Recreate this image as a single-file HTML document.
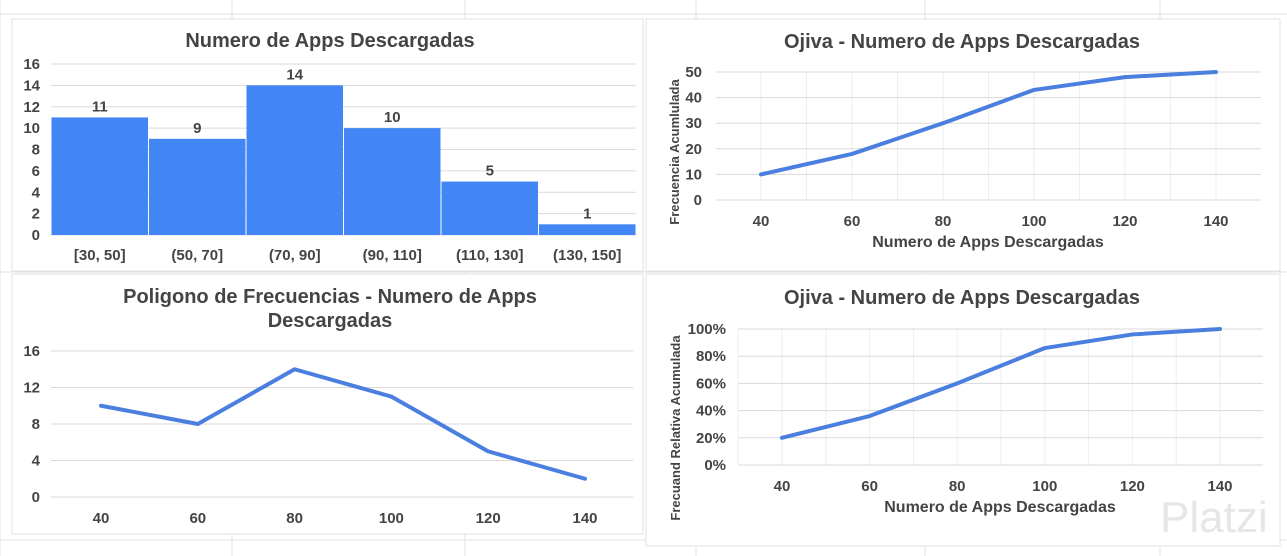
<!DOCTYPE html>
<html><head><meta charset="utf-8">
<style>
html,body{margin:0;padding:0;background:#fff;}
svg{display:block;font-family:"Liberation Sans",Arial,sans-serif;}
</style></head>
<body>
<svg id="s" width="1287" height="556" viewBox="0 0 1287 556" xmlns="http://www.w3.org/2000/svg"></svg>
<script>
// Histogram data
const histCats = ["[30, 50]","(50, 70]","(70, 90]","(90, 110]","(110, 130]","(130, 150]"];
const histVals = [11, 9, 14, 10, 5, 1];
const histTicks = [0,2,4,6,8,10,12,14,16];
// Ojiva (absolute)
const ojX = [40,60,80,100,120,140];
const ojVals = [10,18,30,43,48,50];
const ojTicks = [0,10,20,30,40,50];
// Polygon
const polyX = [40,60,80,100,120,140];
const polyVals = [10,8,14,11,5,2];
const polyTicks = [0,4,8,12,16];
// Ojiva relative (%)
const relX = [40,60,80,100,120,140];
const relVals = [20,36,60,86,96,100];
const relTicks = [0,20,40,60,80,100];

const NS="http://www.w3.org/2000/svg";
const svg=document.getElementById('s');
function el(tag,attrs,parent,text){const e=document.createElementNS(NS,tag);for(const k in attrs)e.setAttribute(k,attrs[k]);if(text!==undefined)e.textContent=text;(parent||svg).appendChild(e);return e;}
const BLUE="#4285f4", TXT="#444", GRID="#dadada";

const bg=el('g',{});


[0,232,465,696,925,1160].forEach(x=>el('line',{x1:x,y1:0,x2:x,y2:556,stroke:"#e2e2e2"},bg));
[14,272,540].forEach(y=>el('line',{x1:0,y1:y,x2:1287,y2:y,stroke:"#e2e2e2"},bg));

function panel(name,x,y,w,h){const g=el('g',{});
el('rect',{x:x,y:y,width:w,height:h,fill:"#fff",stroke:"#e0e0e0"},g);return g;}

function title(g,lines,cx,y0,name){lines.forEach((t,i)=>{const e=el('text',{x:cx,y:y0+i*24,'text-anchor':'middle','font-size':20,'font-weight':'bold',fill:TXT},g,t);});}

function yAxis(g,ticks,x0,x1,sy,fmt,labx){ticks.forEach(t=>{el('line',{x1:x0,x2:x1,y1:sy(t),y2:sy(t),stroke:GRID},g);
const e=el('text',{x:labx,y:sy(t)+5,'text-anchor':'end','font-size':15,'font-weight':'bold',fill:TXT},g,fmt(t));});}

// Panel 1: histogram
{
const g=panel('histogram-chart',12,19,631,252);
title(g,["Numero de Apps Descargadas"],330,47,'chart-title');
const L=51,R=636,sy=v=>235-(v/16)*(235-64);
yAxis(g,histTicks,L,R,sy,t=>t,40);
const bw=(R-L)/histCats.length;
histCats.forEach((c,i)=>{const x=L+i*bw;
const r=el('rect',{x:x+0.5,y:sy(histVals[i]),width:bw-1,height:sy(0)-sy(histVals[i]),fill:BLUE},g);

const v=el('text',{x:x+bw/2,y:sy(histVals[i])-6,'text-anchor':'middle','font-size':15,'font-weight':'bold',fill:TXT},g,histVals[i]);

const t=el('text',{x:x+bw/2,y:260,'text-anchor':'middle','font-size':15,'font-weight':'bold',fill:TXT},g,c);
});
}

function lineChart(g,xs,vals,ticks,L,R,top,bot,ymax,xpos,fmt,labx,minorX){
const sy=v=>bot-(v/ymax)*(bot-top);
if(minorX){for(let v=30;v<=150;v+=10){const x=xpos(v);if(x>L&&x<R)el('line',{x1:x,x2:x,y1:top,y2:bot,stroke:"#eeeeee"},g);}}
yAxis(g,ticks,L,R,sy,fmt,labx);
xs.forEach(v=>{const t=el('text',{x:xpos(v),y:bot+26,'text-anchor':'middle','font-size':15,'font-weight':'bold',fill:TXT},g,v);});
const p=el('polyline',{points:xs.map((v,i)=>xpos(v)+','+sy(vals[i])).join(' '),fill:'none',stroke:"#4a7fe0",'stroke-width':4,'stroke-linejoin':'round','stroke-linecap':'round'},g);

}

// Panel 2: ojiva
{
const g=panel('ojiva-chart',646,19,634,252);
title(g,["Ojiva - Numero de Apps Descargadas"],962,48,'chart-title');
const xp=v=>761+(v-40)/100*(1216-761);
lineChart(g,ojX,ojVals,ojTicks,716,1261,72,200,50,xp,t=>t,702,true);
const a=el('text',{x:988,y:247,'text-anchor':'middle','font-size':16,'font-weight':'bold',fill:TXT},g,"Numero de Apps Descargadas");
const b=el('text',{x:0,y:0,transform:'translate(679,152) rotate(-90)','text-anchor':'middle','font-size':13,'font-weight':'bold',fill:TXT},g,"Frecuencia Acumlulada");
}

// Panel 3: polygon
{
const g=panel('polygon-chart',12,274,631,260);
title(g,["Poligono de Frecuencias - Numero de Apps","Descargadas"],330,303,'chart-title');
const xp=v=>101+(v-40)/100*(585-101);
lineChart(g,polyX,polyVals,polyTicks,51,633,351,497,16,xp,t=>t,40,false);
}

// Panel 4: ojiva relative
{
const g=panel('ojiva-relative-chart',646,274,634,272);
title(g,["Ojiva - Numero de Apps Descargadas"],962,304,'chart-title');
const xp=v=>782+(v-40)/100*(1220-782);
lineChart(g,relX,relVals,relTicks,738,1263,329,465,100,xp,t=>t+'%',726,true);
const a=el('text',{x:1000,y:512,'text-anchor':'middle','font-size':16,'font-weight':'bold',fill:TXT},g,"Numero de Apps Descargadas");
const b=el('text',{x:0,y:0,transform:'translate(680,428) rotate(-90)','text-anchor':'middle','font-size':13,'font-weight':'bold',fill:TXT},g,"Frecuand Relativa Acumulada");
const w=el('text',{x:1160,y:532,'font-size':44,fill:"#e6e6e6"},g,"Platzi");
}
</script>
</body></html>
